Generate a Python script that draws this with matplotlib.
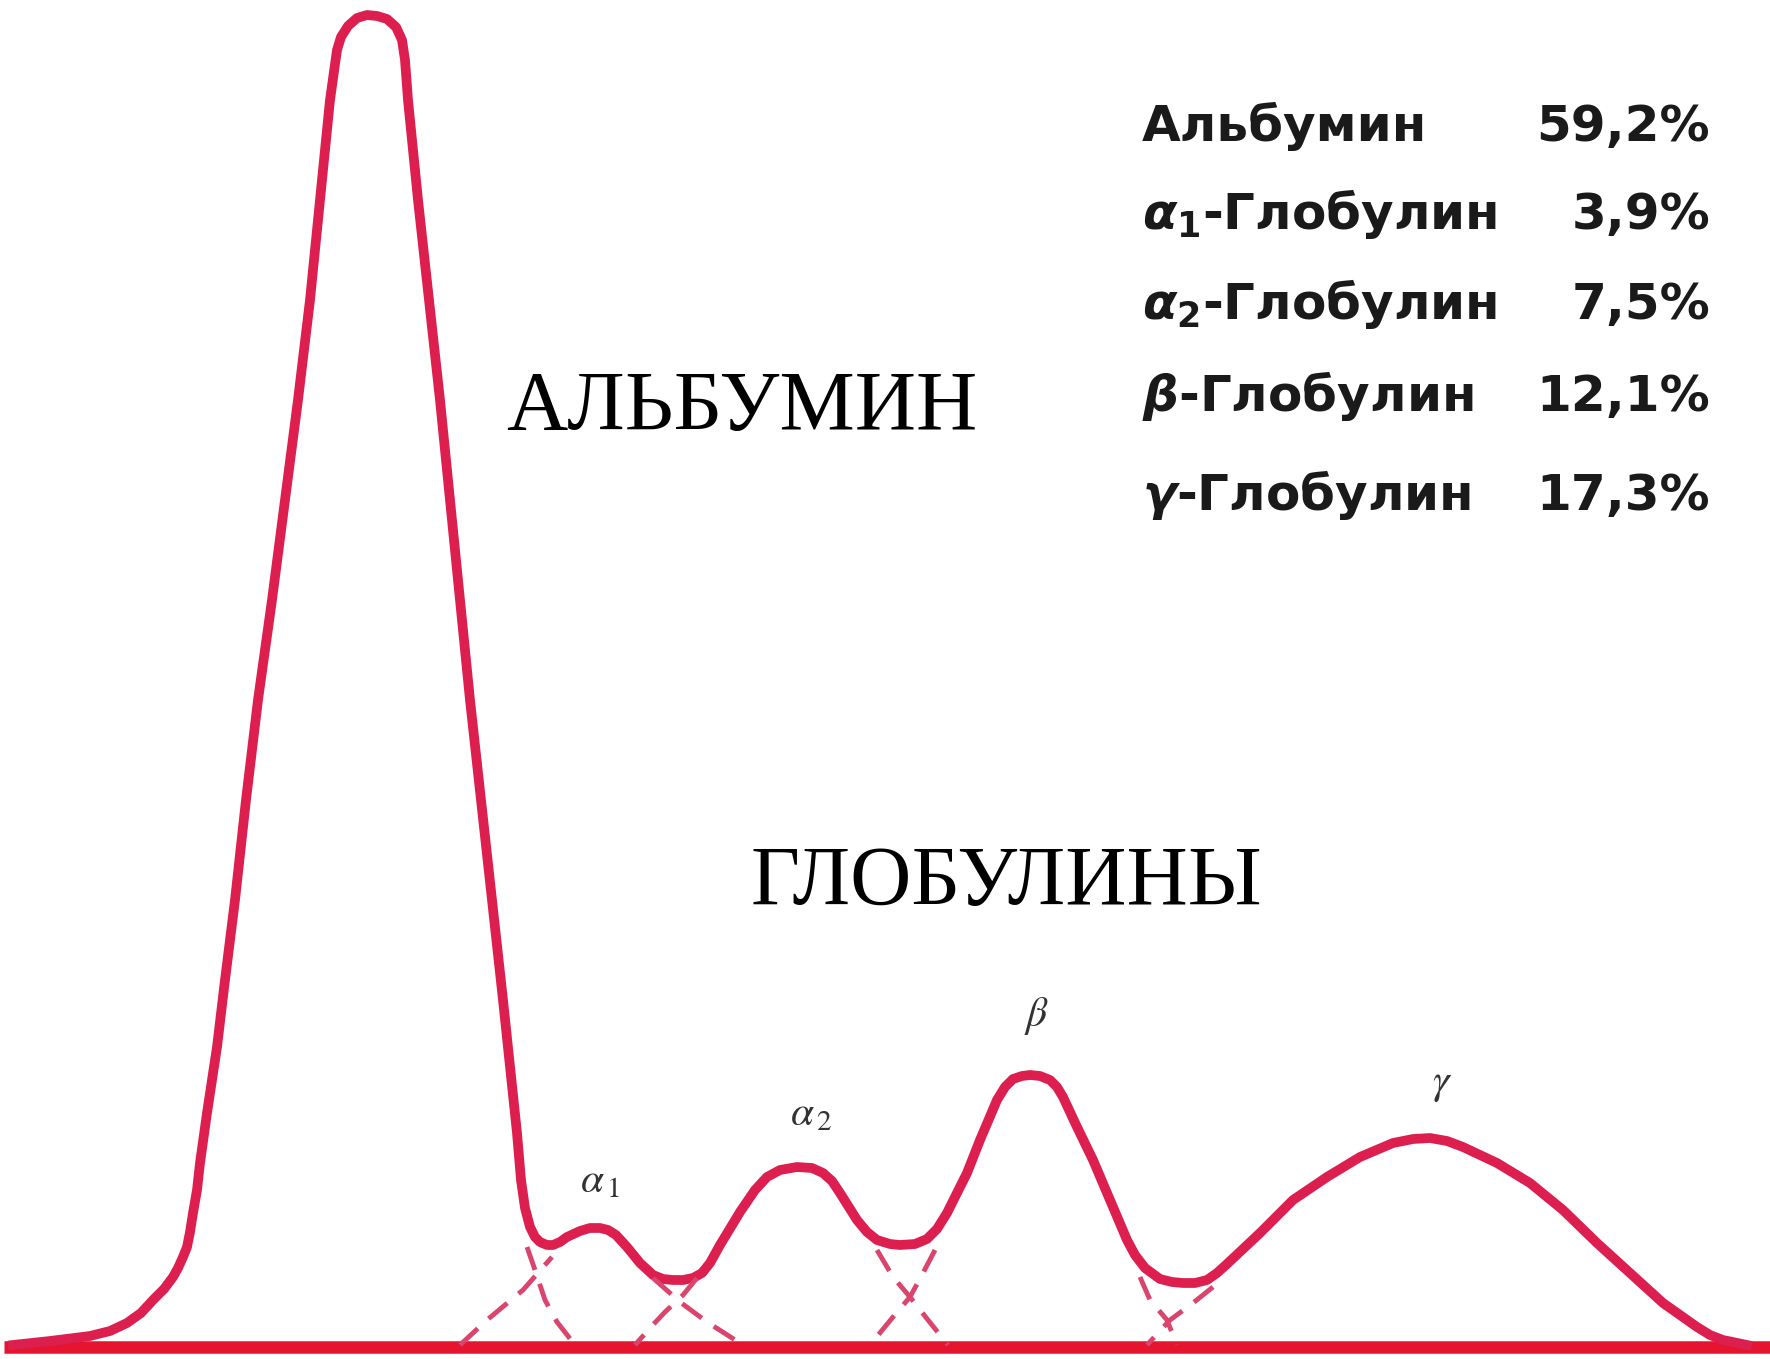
import matplotlib
matplotlib.use("Agg")
import matplotlib.pyplot as plt

plt.rcParams['mathtext.fontset'] = 'custom'
plt.rcParams['mathtext.it'] = 'DejaVu Sans:italic:bold'
plt.rcParams['mathtext.rm'] = 'DejaVu Sans:bold'

# traced electrophoregram (mobility, optical density)
pos = [13, 50, 90, 110, 127, 141, 153, 164, 173, 178, 183, 187, 190, 193, 197,
       200, 207, 217, 225, 235, 246, 258, 272, 285, 298, 310, 320, 330, 337,
       341, 348, 357, 367, 377, 387, 396, 402, 405, 408, 418, 429, 440, 450,
       460, 470, 481, 492, 503, 510, 517, 521, 525, 530, 535, 540, 547, 553,
       560, 567, 580, 590, 600, 608, 616, 627, 640, 653, 663, 673, 683, 693,
       702, 710, 720, 740, 755, 767, 780, 797, 812, 823, 832, 840, 857, 867,
       877, 890, 900, 915, 927, 937, 947, 967, 980, 997, 1005, 1013, 1022,
       1030, 1040, 1050, 1057, 1063, 1077, 1093, 1110, 1127, 1135, 1145, 1160,
       1172, 1183, 1195, 1207, 1217, 1227, 1243, 1260, 1293, 1327, 1360, 1393,
       1413, 1430, 1447, 1463, 1497, 1530, 1563, 1597, 1630, 1663, 1697, 1710,
       1723, 1747]
dens = [2, 6, 11, 16, 24, 34, 47, 58, 70, 79, 90, 100, 115, 134, 157,
        184, 234, 300, 367, 447, 547, 647, 747, 847, 947, 1047, 1147, 1247,
        1297, 1310, 1321, 1329, 1332, 1331, 1328, 1320, 1307, 1287, 1247, 1147,
        1047, 947, 847, 747, 647, 547, 447, 347, 280, 214, 167, 139, 120, 110,
        105, 102, 102, 105, 110, 116, 119, 119, 117, 112, 100, 84, 72, 68, 67,
        67, 69, 74, 84, 102, 135, 157, 170, 177, 180, 179, 174, 166, 154, 127,
        115, 107, 103, 102, 103, 108, 118, 134, 174, 207, 247, 260, 268, 271,
        272, 271, 267, 260, 250, 220, 187, 147, 107, 92, 79, 68, 65, 64, 64,
        67, 74, 83, 98, 114, 147, 170, 190, 204, 208, 209, 206, 200, 184, 164,
        137, 104, 74, 44, 20, 12, 7, 2]

# hidden parts of the fraction curves (dashed)
tail_alb_x = [527, 535, 545, 557, 575]
tail_alb_y = [100, 77, 47, 25, 2]
a1_left_x = [460, 487, 523, 552]
a1_left_y = [2, 27, 57, 90]
a1_right_x = [653, 680, 707, 743]
a1_right_y = [69, 45, 25, 2]
a2_left_x = [697, 683, 665, 650, 635]
a2_left_y = [69, 52, 35, 19, 2]
a2_right_x = [877, 893, 910, 928, 948]
a2_right_y = [97, 70, 50, 27, 2]
b_left_x = [935, 923, 910, 893, 870]
b_left_y = [97, 74, 50, 30, 2]
b_right_x = [1140, 1150, 1167, 1177]
b_right_y = [70, 47, 27, 2]
g_left_x = [1213, 1193, 1170, 1147]
g_left_y = [60, 44, 27, 2]

fractions = ['Альбумин', r'$\alpha_1$-Глобулин', r'$\alpha_2$-Глобулин',
             r'$\beta$-Глобулин', r'$\gamma$-Глобулин']
percent = [59.2, 3.9, 7.5, 12.1, 17.3]

peak_names = [r'$\alpha_{\,1}$', r'$\alpha_{\,2}$', r'$\beta$', r'$\gamma$']
peak_x = [600, 811, 1037, 1442]
peak_y = [167, 234, 331, 264]

red = '#dc1f4e'
fig = plt.figure(figsize=(17.7, 13.59), dpi=100)
ax = fig.add_axes([0, 0, 1, 1])
ax.set_xlim(0, 1770)
ax.set_ylim(-12, 1347)
ax.axis('off')

ax.plot([4, 1770], [0, 0], color='#e5142f', lw=9, solid_capstyle='butt')
ax.plot(pos, dens, color=red, lw=7, solid_joinstyle='round')
for xs, ys in [(tail_alb_x, tail_alb_y), (a1_left_x, a1_left_y),
               (a1_right_x, a1_right_y), (a2_left_x, a2_left_y),
               (a2_right_x, a2_right_y), (b_left_x, b_left_y),
               (b_right_x, b_right_y), (g_left_x, g_left_y)]:
    ax.plot(xs, ys, color='#d9456c', lw=3.5, dashes=(5, 3))

ax.text(742, 1347 - 430, 'АЛЬБУМИН', family='Liberation Serif', fontsize=61,
        ha='center', va='baseline')
ax.text(1006, 1347 - 905, 'ГЛОБУЛИНЫ', family='Liberation Serif', fontsize=61,
        ha='center', va='baseline')

row_base = [141, 229, 319, 411, 510]
for name, p, yb in zip(fractions, percent, row_base):
    ax.text(1142, 1347 - yb, name, family='DejaVu Sans', weight='bold',
            fontsize=36, color='#1a1a1a', va='baseline', math_fontfamily='custom')
    ax.text(1710, 1347 - yb, ('%.1f' % p).replace('.', ',') + '%',
            family='DejaVu Sans', weight='bold', fontsize=36, color='#1a1a1a',
            ha='right', va='baseline')

for n, x, y in zip(peak_names, peak_x, peak_y):
    ax.text(x, y, n, fontsize=30, color='#333333', ha='center', va='center',
            math_fontfamily='stix')

fig.savefig('out.png', dpi=100)
